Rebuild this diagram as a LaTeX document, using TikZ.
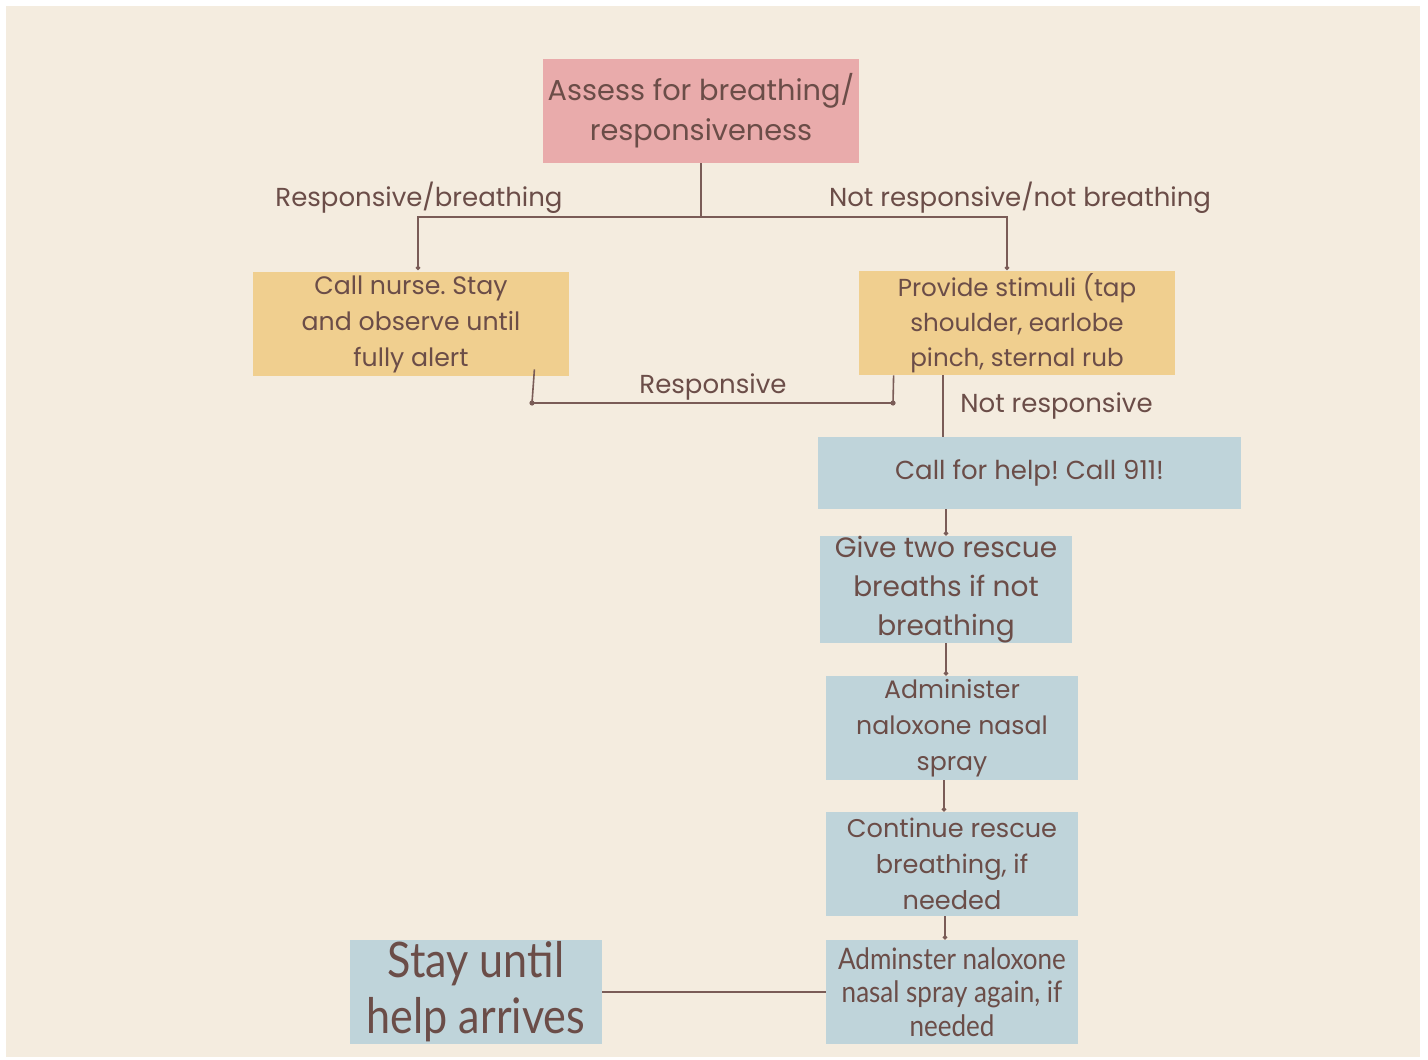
\documentclass[tikz,border=0pt]{standalone}
\usepackage{fontspec}
\setmainfont{Poppins}
\newfontfamily\narrowfont[FakeStretch=0.88]{Lato}
\usepackage{tikz}
\usetikzlibrary{calc,arrows.meta}
\frenchspacing
\definecolor{cream}{HTML}{F4ECDF}
\definecolor{pinkbox}{HTML}{E9ABAB}
\definecolor{yellowbox}{HTML}{F0CF8F}
\definecolor{bluebox}{HTML}{BFD4DA}
\definecolor{inkbrown}{HTML}{6B4D48}
\definecolor{linebrown}{HTML}{7A5C57}
\tikzset{
	box/.style={rectangle, inner sep=0pt, align=center, text=inkbrown},
	link/.style={draw=linebrown, line width=0.8pt},
	dotend/.style={link, -{Circle[length=2.2pt]}},
	lbl/.style={text=inkbrown, font=\fontsize{13}{15}\selectfont, inner sep=0pt}
}

\begin{document}
\begin{tikzpicture}[x=0.5pt, y=-0.5pt]
		%%%%% START %%%%%
		
		\fill[white] (0, 0) rectangle (1428, 1059);
		\fill[cream] (6, 6) rectangle (1420, 1057);
		
		\node[box, fill=pinkbox, minimum width=158pt, minimum height=52pt, font=\fontsize{14.4}{20}\selectfont] (assess) at (701, 111) {Assess for breathing/\\responsiveness};
		
		\node[box, fill=yellowbox, minimum width=158pt, minimum height=52pt, font=\fontsize{12.6}{18}\selectfont] (nurse) at (411, 324) {Call nurse. Stay\\and observe until\\fully alert};
		\node[box, fill=yellowbox, minimum width=158pt, minimum height=52pt, font=\fontsize{12.3}{17.5}\selectfont] (stimuli) at (1017, 323) {Provide stimuli (tap\\shoulder, earlobe\\pinch, sternal rub};
		
		\node[box, fill=bluebox, minimum width=211.5pt, minimum height=36pt, font=\fontsize{13}{15}\selectfont] (help) at (1029.5, 473) {Call for help! Call 911!};
		\node[box, fill=bluebox, minimum width=126pt, minimum height=53.5pt, font=\fontsize{14}{19.5}\selectfont] (breaths) at (946, 589.5) {Give two rescue\\breaths if not\\breathing};
		\node[box, fill=bluebox, minimum width=126pt, minimum height=52pt, font=\fontsize{12.6}{18}\selectfont] (admin) at (952, 728) {Administer\\naloxone nasal\\spray};
		\node[box, fill=bluebox, minimum width=126pt, minimum height=52pt, font=\fontsize{12.8}{18}\selectfont] (cont) at (952, 864) {Continue rescue\\breathing, if\\needed};
		\node[box, fill=bluebox, minimum width=126pt, minimum height=52pt, font=\narrowfont\fontsize{14.8}{16.7}\selectfont] (again) at (952, 992) {Adminster naloxone\\nasal spray again, if\\needed};
		\node[box, fill=bluebox, minimum width=126pt, minimum height=52pt, font=\narrowfont\fontsize{24.5}{28}\selectfont] (stay) at (476, 992) {Stay until\\help arrives};
		
		% first split
		\coordinate (split) at (701, 217);
		\draw[link] (assess.south) -- (split);
		\draw[dotend] (split) -| (418, 270);
		\draw[dotend] (split) -| (1007, 270);
		\node[lbl, anchor=south] (lresp) at (419, 214) {Responsive/breathing};
		\node[lbl, anchor=south] (lnot) at (1020, 214) {Not responsive/not breathing};
		
		% back to nurse
		\draw[link] ($(nurse.south east)+(-35, -7)$) -- (532, 403) -- (893, 403) -- ($(stimuli.south west)+(35, 0)$);
		\fill[linebrown] (532, 403) circle (1.3pt) (893, 403) circle (1.3pt);
		\node[lbl, anchor=south] (lresp2) at (713, 401) {Responsive};
		
		% down the chain
		\draw[link] ($(stimuli.south)+(-74, 0)$) coordinate (nr) -- (nr |- help.north);
		\node[lbl, anchor=west] (lnr) at (960, 406) {Not responsive};
		\draw[dotend] (breaths.north |- help.south) -- (breaths.north);
		\draw[dotend] (breaths.south) -- (breaths.south |- admin.north);
		\draw[dotend] ($(admin.south)+(-8, 0)$) coordinate (a1) -- (a1 |- cont.north);
		\draw[dotend] ($(cont.south)+(-7, 0)$) coordinate (c1) -- (c1 |- again.north);
		\draw[link] (again.west) -- (stay.east);
		
		%%%%% END %%%%%
	\end{tikzpicture}
\end{document}
